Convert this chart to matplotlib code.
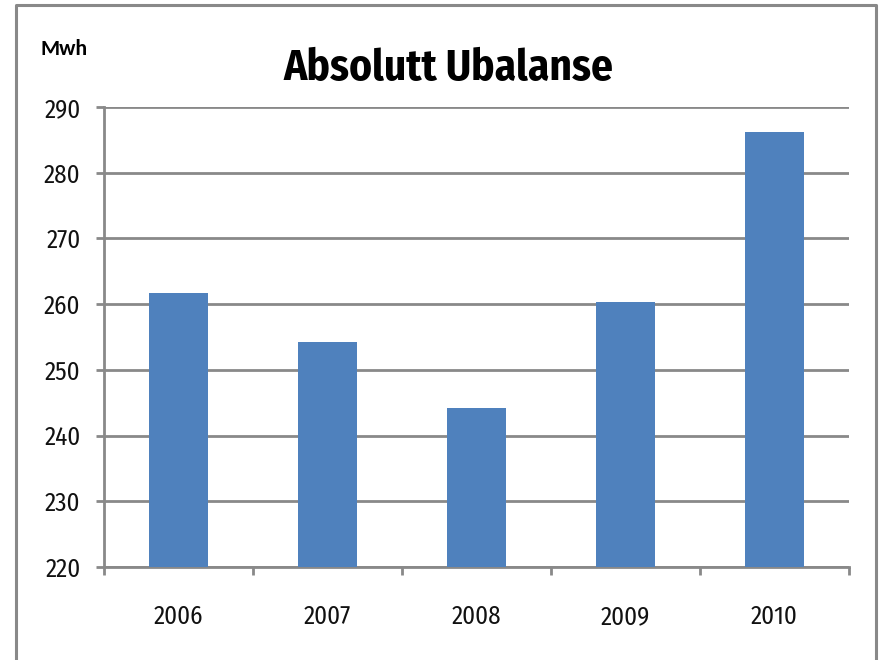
import matplotlib
matplotlib.use("Agg")
import matplotlib.pyplot as plt
from matplotlib.lines import Line2D
from matplotlib import font_manager as fm

years = ["2006", "2007", "2008", "2009", "2010"]
values = [261.7, 254.3, 244.2, 260.3, 286.2]
y_ticks = [220, 230, 240, 250, 260, 270, 280, 290]
title = "Absolutt Ubalanse"
unit = "Mwh"

avail = {f.name for f in fm.fontManager.ttflist}
fam = 'DejaVu Sans'
for cand in ['Fira Sans Condensed', 'PT Sans Narrow', 'Open Sans Condensed', 'Asap Condensed',
             'Archivo Narrow', 'Roboto Condensed', 'Liberation Sans Narrow', 'Carlito']:
    if cand in avail:
        fam = cand
        break
unit_fam = 'Carlito' if 'Carlito' in avail else fam
plt.rcParams['font.family'] = [fam, 'DejaVu Sans']

W, H = 881, 660
fig = plt.figure(figsize=(W / 100, H / 100), dpi=100)
r = fig.canvas.get_renderer()


def size_for(s, target_w, weight='normal', family=None):
    t = fig.text(0, 0, s, fontsize=20, fontweight=weight, family=family or [fam, 'DejaVu Sans'])
    w = t.get_window_extent(r).width
    t.remove()
    return 20 * target_w / w


tick_fs = size_for("2006", 49.5)
title_fs = size_for(title, 330, 'bold')
unit_fs = size_for(unit, 47, 'bold', [unit_fam, 'DejaVu Sans'])

ax = fig.add_axes([104 / W, (H - 567) / H, 745 / W, 460 / H])

gray = '#898989'
x = list(range(len(years)))
ax.bar(x, values, width=0.4, color='#4F81BD', zorder=3)
ax.set_xlim(-0.5, len(years) - 0.5)
ax.set_ylim(220, 290)
ax.set_yticks(y_ticks)
ax.set_yticklabels([str(t) for t in y_ticks], fontsize=tick_fs, color='#111111')
ax.yaxis.grid(True, color=gray, linewidth=2, zorder=0)
ax.set_axisbelow(True)

ax.set_xticks(x)
ax.set_xticklabels(years, fontsize=tick_fs, color='#111111')
ax.tick_params(axis='x', length=0, pad=27)
ax.set_xticks([i - 0.5 for i in range(len(years) + 1)], minor=True)
ax.tick_params(axis='x', which='minor', length=6, width=2, color=gray, direction='out')
ax.tick_params(axis='y', length=6, width=2, color=gray, direction='out', pad=11)

for s in ['top', 'right']:
    ax.spines[s].set_visible(False)
for s in ['left', 'bottom']:
    ax.spines[s].set_color(gray)
    ax.spines[s].set_linewidth(2)

fig.text(448 / W, 1 - 80 / H, title, ha='center', va='baseline',
         fontsize=title_fs, fontweight='bold', color='#000000')
fig.text(40 / W, 1 - 55 / H, unit, ha='left', va='baseline',
         fontsize=unit_fs, fontweight='bold', color='#000000', family=[unit_fam, 'DejaVu Sans'])

# outer frame (no bottom edge visible)
fig.add_artist(Line2D([15.5 / W, 15.5 / W, 875.5 / W, 875.5 / W],
                      [0, 1 - 4.5 / H, 1 - 4.5 / H, 0],
                      transform=fig.transFigure, color=gray, linewidth=2.2))

fig.savefig("out.png", dpi=100, facecolor='white')
